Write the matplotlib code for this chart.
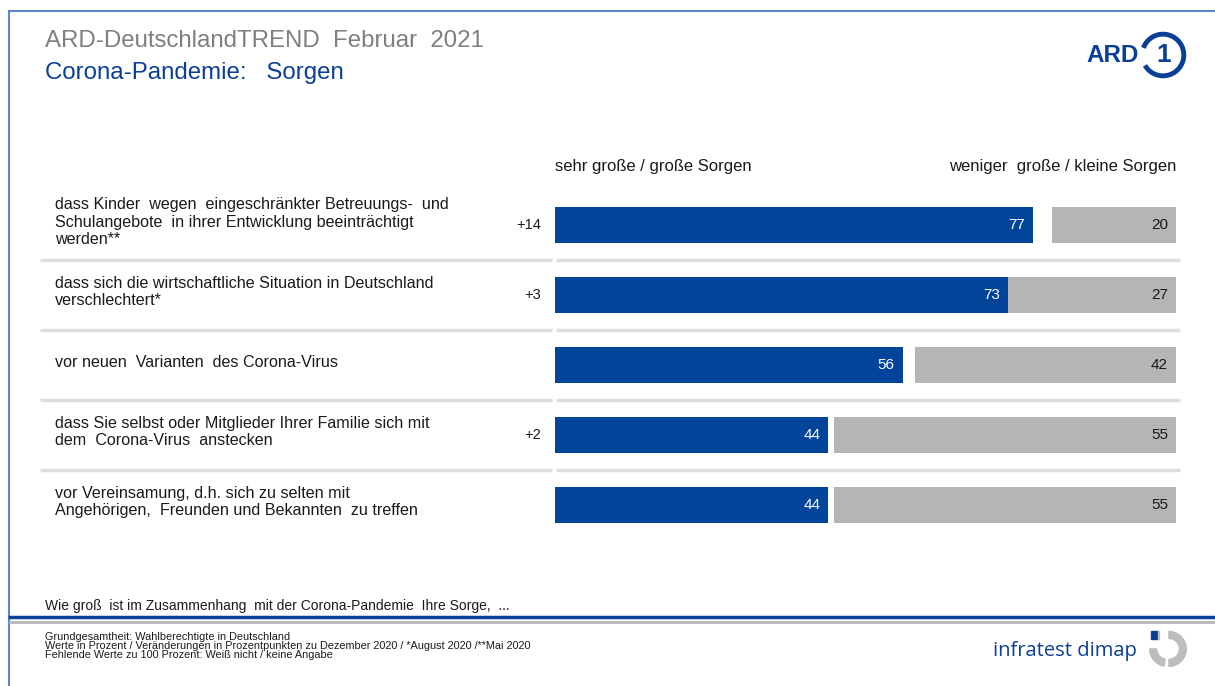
import matplotlib.pyplot as plt
from matplotlib.lines import Line2D
from matplotlib.patches import Arc, Rectangle, Wedge
from matplotlib.transforms import blended_transform_factory

plt.rcParams['font.family'] = ['Liberation Sans', 'DejaVu Sans']

# Data
labels = [
    "dass Kinder  wegen  eingeschränkter Betreuungs-  und\nSchulangebote  in ihrer Entwicklung beeinträchtigt\nwerden**",
    "dass sich die wirtschaftliche Situation in Deutschland\nverschlechtert*",
    "vor neuen  Varianten  des Corona-Virus",
    "dass Sie selbst oder Mitglieder Ihrer Familie sich mit\ndem  Corona-Virus  anstecken",
    "vor Vereinsamung, d.h. sich zu selten mit\nAngehörigen,  Freunden und Bekannten  zu treffen",
]
gross = [77, 73, 56, 44, 44]
klein = [20, 27, 42, 55, 55]
changes = ["+14", "+3", "", "+2", ""]
notes = [
    "Grundgesamtheit: Wahlberechtigte in Deutschland",
    "Werte in Prozent / Veränderungen in Prozentpunkten zu Dezember 2020 / *August 2020 /**Mai 2020",
    "Fehlende Werte zu 100 Prozent: Weiß nicht / keine Angabe",
]

BLUE = "#02449a"
GREY = "#b5b5b5"
SEP = "#dedede"
W, H = 1215, 686


def fx(px):
    return px / W


def fy(py):
    return 1 - py / H


fig = plt.figure(figsize=(W / 100, H / 100), dpi=100)

# bar area: x 555..1176 px, rows centred at 225..505 px
ax = fig.add_axes([fx(555), fy(540), fx(1176) - fx(555), (540 - 190) / H])
n = len(gross)
rows = list(range(n))
ax.barh(rows, gross, height=0.52, color=BLUE)
ax.barh(rows, klein, left=[100 - k for k in klein], height=0.52, color=GREY)
ax.set_xlim(0, 100)
ax.set_ylim(n - 0.5, -0.5)
ax.axis('off')

for i in rows:
    ax.text(gross[i] - 1.3, i, str(gross[i]), color='white', fontsize=11,
            ha='right', va='center')
    ax.text(98.7, i, str(klein[i]), color='#1a1a1a', fontsize=11,
            ha='right', va='center')

tr = blended_transform_factory(fig.transFigure, ax.transData)
for i in rows:
    ax.text(fx(55), i - 0.04, labels[i], transform=tr, fontsize=11.6,
            ha='left', va='center', linespacing=1.2, color='#1a1a1a')
    if changes[i]:
        ax.text(fx(541), i, changes[i], transform=tr, fontsize=10.5,
                ha='right', va='center', color='#1a1a1a')

# separators between rows
for b in [0.5, 1.5, 2.5, 3.5]:
    ax.add_line(Line2D([fx(40), fx(552)], [b, b], transform=tr, color=SEP,
                       lw=2.5, clip_on=False, solid_capstyle='butt'))
    ax.add_line(Line2D([fx(556), fx(1180)], [b, b], transform=tr, color=SEP,
                       lw=2.5, clip_on=False, solid_capstyle='butt'))

# column headers
fig.text(fx(555), fy(167), "sehr große / große Sorgen", fontsize=12,
         ha='left', va='center', color='#1a1a1a')
fig.text(fx(1176), fy(167), "weniger  große / kleine Sorgen", fontsize=12,
         ha='right', va='center', color='#1a1a1a')

# titles
fig.text(fx(45), fy(41), "ARD-DeutschlandTREND  Februar  2021", fontsize=17.3,
         color='#7f7f7f', ha='left', va='center')
fig.text(fx(45), fy(73), "Corona-Pandemie:   Sorgen", fontsize=17.3,
         color='#0a3f98', ha='left', va='center')

# frame
fig.add_artist(Line2D([fx(9), fx(W)], [fy(11), fy(11)], color='#5b86c8', lw=1.5))
fig.add_artist(Line2D([fx(9), fx(9)], [fy(11), 0], color='#5b86c8', lw=1.5))
fig.add_artist(Line2D([fx(10), fx(W)], [fy(617), fy(617)], color='#0a3f98', lw=2.5))
fig.add_artist(Line2D([fx(10), fx(W)], [fy(621.5), fy(621.5)], color='#b8b8b8', lw=2))

# footer
fig.text(fx(45), fy(606), "Wie groß  ist im Zusammenhang  mit der Corona-Pandemie  Ihre Sorge,  ...",
         fontsize=10, ha='left', va='center', color='#1a1a1a')
for k, line in enumerate(notes):
    fig.text(fx(45), fy(637 + 9 * k), line, fontsize=7.8, ha='left',
             va='center', color='#1a1a1a')

# ARD logo
fig.text(fx(1139), fy(56), "ARD", fontsize=17.5, fontweight='bold',
         color='#0a3f98', ha='right', va='center')
lax = fig.add_axes([fx(1136), fy(82), fx(1190) - fx(1136), 54 / H])
lax.set_xlim(-1.2, 1.2)
lax.set_ylim(-1.2, 1.2)
lax.set_aspect('equal')
lax.axis('off')
lax.add_patch(Arc((0, 0), 1.85, 1.85, theta1=-150, theta2=160, lw=3.5,
                  color='#0a3f98'))
lax.text(0.02, 0.0, "1", fontsize=19, fontweight='bold', color='#0a3f98',
         ha='center', va='center')

# infratest dimap logo
fig.text(fx(1137), fy(651), "infratest dimap", fontsize=14.5, family=['Open Sans', 'DejaVu Sans'],
         color='#0a3f98', ha='right', va='center')
iax = fig.add_axes([fx(1146), fy(670), fx(1190) - fx(1146), 44 / H])
iax.set_xlim(-1.2, 1.2)
iax.set_ylim(-1.2, 1.2)
iax.set_aspect('equal')
iax.axis('off')
iax.add_patch(Wedge((0.05, -0.05), 0.95, -90, 90, width=0.38, color='#bdbdbd'))
iax.add_patch(Wedge((-0.05, -0.05), 0.95, 180, 260, width=0.38, color='#bdbdbd'))
iax.add_patch(Rectangle((-0.95, 0.5), 0.38, 0.42, color='#0a3f98'))
iax.add_patch(Rectangle((-0.57, 0.5), 0.1, 0.42, color='#bdbdbd'))

fig.savefig('out.png', dpi=100)
